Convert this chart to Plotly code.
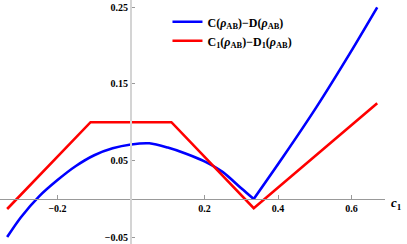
import plotly.graph_objects as go

# C(rho_AB) - D(rho_AB)  (blue), left branch up to the cusp and right branch
c1_blue_left = [-0.337, -0.30, -0.25, -0.20, -0.15, -0.10, -0.05, 0.0, 0.05,
                0.10, 0.15, 0.20, 0.25, 0.30, 0.334]
cd_blue_left = [-0.0495, -0.024, 0.0035, 0.0247, 0.043, 0.057, 0.066, 0.071, 0.0725,
                0.067, 0.059, 0.049, 0.035, 0.014, 0.0]
c1_blue_right = [0.334, 0.414, 0.505, 0.596, 0.670]
cd_blue_right = [0.0, 0.055, 0.120, 0.190, 0.2496]

# C1(rho_AB) - D1(rho_AB)  (red)
c1_red = [-0.337, -0.11, 0.11, 0.334, 0.670]
cd_red = [-0.013, 0.100, 0.100, -0.012, 0.1246]

x_ticks = [-0.2, 0.2, 0.4, 0.6]
y_ticks = [-0.05, 0.05, 0.15, 0.25]

serif = "Liberation Serif"
blue_name = "C(<i>ρ</i><sub>AB</sub>)−D(<i>ρ</i><sub>AB</sub>)"
red_name = "C<sub>1</sub>(<i>ρ</i><sub>AB</sub>)−D<sub>1</sub>(<i>ρ</i><sub>AB</sub>)"

fig = go.Figure()
fig.add_trace(go.Scatter(x=c1_blue_left, y=cd_blue_left, mode="lines",
                         line=dict(color="#0000ff", width=2.6, shape="spline", smoothing=0.8),
                         legendgroup="a", name=blue_name))
fig.add_trace(go.Scatter(x=c1_blue_right, y=cd_blue_right, mode="lines",
                         line=dict(color="#0000ff", width=2.6, shape="spline", smoothing=0.8),
                         legendgroup="a", showlegend=False, name=blue_name))
fig.add_trace(go.Scatter(x=c1_red, y=cd_red, mode="lines",
                         line=dict(color="#ff0000", width=2.6),
                         legendgroup="b", name=red_name))

fig.update_layout(
    width=407, height=244,
    margin=dict(l=0, r=22, t=0, b=0, pad=0, autoexpand=False),
    paper_bgcolor="white", plot_bgcolor="white",
    font=dict(family=serif, color="black"),
    legend=dict(x=0.435, y=0.97, xanchor="left", yanchor="top",
                bgcolor="rgba(0,0,0,0)", tracegroupgap=0,
                font=dict(family=serif, size=12, weight="bold")),
    xaxis=dict(range=[-0.35646, 0.69116], anchor="free", position=45 / 244,
               automargin=False,
               showgrid=False, zeroline=False,
               showline=True, linecolor="#999999", linewidth=1,
               ticks="inside", ticklen=4, tickcolor="#999999",
               tickvals=x_ticks, ticktext=["−0.2", "0.2", "0.4", "0.6"],
               tickfont=dict(family=serif, size=10, weight="bold")),
    yaxis=dict(range=[-0.05859, 0.25911], anchor="free", position=131 / 385,
               automargin=False,
               showgrid=False, zeroline=False,
               showline=True, linecolor="#d4d4d4", linewidth=2,
               ticks="inside", ticklen=3, tickcolor="#999999",
               tickvals=y_ticks, ticktext=["−0.05", "0.05", "0.15", "0.25"],
               tickfont=dict(family=serif, size=10, weight="bold")),
)

fig.add_annotation(x=1.0, y=45 / 244, xref="paper", yref="paper",
                   xanchor="left", yanchor="middle", xshift=4, yshift=-4,
                   text="<i>c</i><sub>1</sub>", showarrow=False,
                   font=dict(family=serif, size=13, weight="bold"))

# drop the page's default body margin so the figure sits at the window's corner
fig.write_html("out.html", config={"displayModeBar": False},
               post_script="document.body.style.margin='0';document.body.style.overflow='hidden';")
